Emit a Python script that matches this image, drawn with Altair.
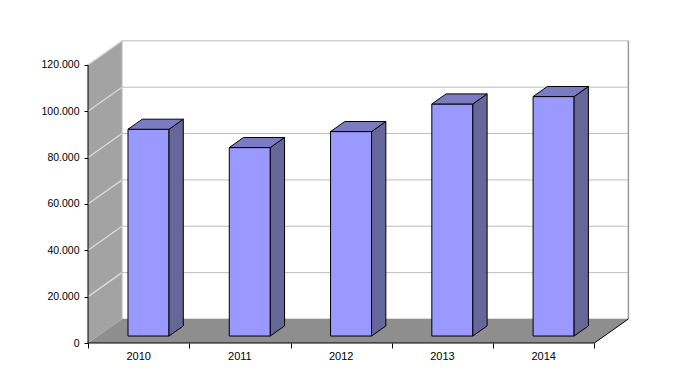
import altair as alt
import pandas as pd

# ---- data ----
years = ["2010", "2011", "2012", "2013", "2014"]
values = [89200, 81300, 88200, 100100, 103300]
y_ticks = [0, 20000, 40000, 60000, 80000, 100000, 120000]

# ---- 3D geometry (data units) ----
YMAX = 120000
DX = 0.336      # full depth offset along x (slot units)
DY = 10360      # full depth offset along y (value units)
F0, F1 = 0.29, 0.71   # bar front / back depth fraction
BW = 0.405      # bar width (slot units)
N = len(years)

SX = alt.Scale(domain=[0, 5.5], nice=False, zero=False)
SY = alt.Scale(domain=[0, 132000], nice=False)
AX_X = alt.Axis(values=list(range(N + 1)), labels=False, domain=False, grid=False,
                ticks=True, tickSize=5, tickColor="black", title=None)
AX_Y = alt.Axis(values=y_ticks, domain=False, grid=False, ticks=True, tickSize=4,
                tickColor="black", labelPadding=5, title=None,
                labelExpr="replace(format(datum.value, ','), ',', '.')")


def X(f="x"):
    return alt.X(f, type="quantitative", scale=SX, axis=AX_X, stack=None)


def Y(f="y"):
    return alt.Y(f, type="quantitative", scale=SY, axis=AX_Y, stack=None)


# left wall
wall = pd.DataFrame({"x": [0, DX], "y": [0, DY], "y2": [YMAX, YMAX + DY]})
left_wall = alt.Chart(wall).mark_area(color="#a3a3a3", interpolate="linear").encode(
    x=X(), y=Y(), y2="y2")

# back wall gridlines
grid = pd.DataFrame({"v": y_ticks})
grid["x"] = DX
grid["x2"] = N + DX
grid["y"] = grid["v"] + DY
back_grid = alt.Chart(grid).mark_rule(color="#bdbdbd", strokeWidth=1).encode(
    x=X(), x2="x2", y=Y())

# gridlines on the left wall (diagonals)
side_grid_layers = []
for v in y_ticks[1:]:
    d = pd.DataFrame({"x": [0, DX], "y": [v, v + DY]})
    side_grid_layers.append(alt.Chart(d).mark_line(
        color="#dcdcdc", strokeWidth=1.3, interpolate="linear").encode(x=X(), y=Y()))

# left and right edges of the back wall
ledge = pd.DataFrame({"x": [DX], "y": [DY], "y2": [YMAX + DY]})
left_edge = alt.Chart(ledge).mark_rule(color="#b8b8b8", strokeWidth=1).encode(
    x=X(), y=Y(), y2="y2")
redge = pd.DataFrame({"x": [N + DX], "y": [DY], "y2": [YMAX + DY]})
right_edge = alt.Chart(redge).mark_rule(color="#999999", strokeWidth=1.5).encode(
    x=X(), y=Y(), y2="y2")

# floor
floor_df = pd.DataFrame({"y": [0, DY], "x": [0, DX], "x2": [N, N + DX]})
floor = alt.Chart(floor_df).mark_area(color="#8e8e8e", orient="horizontal",
                                      interpolate="linear").encode(
    y=Y(), x=X(), x2="x2")
fedge = pd.DataFrame({"x": [N, N + DX], "y": [0, DY]})
floor_edge = alt.Chart(fedge).mark_line(color="black", strokeWidth=1).encode(
    x=X(), y=Y())

# axis lines
yline = alt.Chart(pd.DataFrame({"x": [0], "y": [0], "y2": [YMAX]})).mark_rule(
    color="black", strokeWidth=1).encode(x=X(), y=Y(), y2="y2")
xline = alt.Chart(pd.DataFrame({"x": [0], "x2": [N], "y": [0]})).mark_rule(
    color="black", strokeWidth=1).encode(x=X(), x2="x2", y=Y())

# bars
front_rows = []
bar_layers = []
ddx = (F1 - F0) * DX
ddy = (F1 - F0) * DY
for i, (yr, v) in enumerate(zip(years, values)):
    xl = i + 0.5 - BW / 2 + F0 * DX
    xr = xl + BW
    b = F0 * DY
    front_rows.append({"bar": yr, "x": xl, "x2": xr, "y": b, "y2": v + b})
    side_df = pd.DataFrame({"x": [xr, xr + ddx], "y": [b, b + ddy],
                            "y2": [v + b, v + b + ddy]})
    top_df = pd.DataFrame({"y": [v + b, v + b + ddy], "x": [xl, xl + ddx],
                           "x2": [xr, xr + ddx]})
    bar_layers.append(alt.Chart(side_df).mark_area(
        color="#666699", stroke="black", strokeWidth=1, interpolate="linear").encode(
        x=X(), y=Y(), y2="y2"))
    bar_layers.append(alt.Chart(top_df).mark_area(
        color="#7b7bc4", stroke="black", strokeWidth=1, orient="horizontal",
        interpolate="linear").encode(y=Y(), x=X(), x2="x2"))

front = alt.Chart(pd.DataFrame(front_rows)).mark_rect(
    fill="#9999ff", stroke="black", strokeWidth=1).encode(
    x=X(), x2="x2", y=Y(), y2="y2")

# category labels
lab = pd.DataFrame({"label": years, "x": [i + 0.5 for i in range(N)], "y": [0] * N})
labels = alt.Chart(lab).mark_text(font="Liberation Sans", fontSize=11, dy=14,
                                  color="black", baseline="middle").encode(
    x=X(), y=Y(), text="label:N")

chart = alt.layer(
    left_wall, back_grid, *side_grid_layers, left_edge, right_edge, floor, floor_edge,
    yline, xline, front, *bar_layers, labels
).properties(
    width=557, height=306,
    autosize=alt.AutoSizeParams(type="none"),
    padding={"left": 80, "top": 29, "right": 30, "bottom": 30},
).configure_view(stroke=None).configure_axis(
    labelFont="Liberation Sans", labelFontSize=10.5, labelColor="black"
)

chart.save("out.html", embed_options={"renderer": "svg", "actions": False})
